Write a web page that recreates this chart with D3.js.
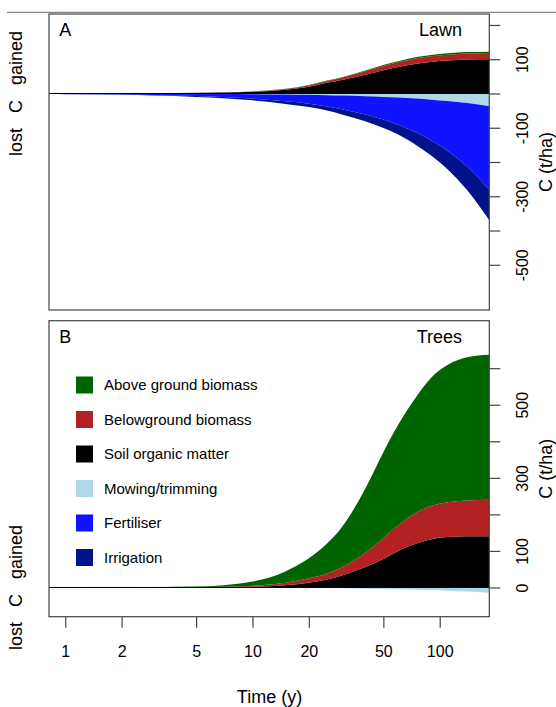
<!DOCTYPE html>
<html>
<head>
<meta charset="utf-8">
<script src="https://cdn.jsdelivr.net/npm/d3@7"></script>
<style>
  body { margin: 0; background: #fff; }
  text { font-family: "Liberation Sans", Arial, sans-serif; fill: #000; }
</style>
</head>
<body>
<script>
// time points (years) the curves are read at
var years = [0.82, 1, 2, 3, 5, 7, 10, 15, 20, 25, 30, 40, 50, 60, 75, 90, 110, 140, 184];

// lawn, C gained (t/ha)
var lawnSoil  = [0, 0, 0.3, 0.7, 1.5, 2.8, 5, 11, 20, 31, 39, 55, 68, 77, 87, 92, 96, 99, 100];
var lawnBelow = [0, 0, 0.05, 0.13, 0.27, 0.5, 0.9, 2, 3.6, 5.6, 7, 9.9, 12.2, 13.9, 15.7, 16.6, 17.3, 17.8, 18];
var lawnAbove = [0, 0, 0.01, 0.03, 0.06, 0.11, 0.2, 0.45, 0.8, 1.2, 1.6, 2.2, 2.7, 3.1, 3.5, 3.7, 3.8, 4, 4];
// lawn, C lost (t/ha)
var lawnMowing = [0.16, 0.2, 0.4, 0.6, 1, 1.4, 2, 3, 4, 5, 6, 8, 10, 12, 15, 18, 22, 28, 37];
var lawnFert   = [1.1, 1.3, 2.6, 4, 6.6, 9.2, 13, 20, 26, 33, 40, 53, 66, 79, 99, 119, 145, 185, 243];
var lawnIrrig  = [0.4, 0.5, 1, 1.5, 2.5, 3.4, 4.9, 7.4, 9.8, 12, 15, 20, 25, 29, 37, 44, 54, 69, 90];

// trees, C gained
var treeSoil  = [0, 0, 0.05, 0.15, 0.4, 0.9, 2, 6, 13, 22, 33, 56, 78, 100, 120, 132, 138, 140, 140];
var treeBelow = [0, 0, 0.05, 0.15, 0.4, 0.9, 2.5, 7, 12, 16, 22, 39, 57, 70, 85, 91, 95, 98, 100];
var treeAbove = [0, 0, 0.3, 0.6, 1.6, 4.5, 11.5, 31, 55, 82, 110, 175, 235, 275, 317, 351, 376, 392, 397];
// trees, C lost
var treeMowing = [0.07, 0.08, 0.16, 0.24, 0.4, 0.56, 0.8, 1.2, 1.6, 2, 2.4, 3.2, 4, 4.8, 6, 7.2, 8.8, 11.2, 14.7];
var treeFert   = [0, 0, 0, 0, 0, 0, 0, 0, 0, 0, 0, 0, 0, 0, 0, 0, 0, 0, 0];
var treeIrrig  = [0, 0, 0, 0, 0, 0, 0, 0, 0, 0, 0, 0, 0, 0, 0, 0, 0, 0, 0];

var legendLabels = ["Above ground biomass", "Belowground biomass", "Soil organic matter",
                    "Mowing/trimming", "Fertiliser", "Irrigation"];
var legendColors = ["#006400", "#b22222", "#000000", "#add8e6", "#0f14ff", "#02128b"];

var xTicks = [1, 2, 5, 10, 20, 50, 100];
var lawnTicks = [200, 100, 0, -100, -200, -300, -400, -500];
var lawnLabels = [100, -100, -300, -500];
var treeTicks = [0, 100, 200, 300, 400, 500, 600];
var treeLabels = [0, 100, 300, 500];

var keys = ["soil", "below", "above", "mowing", "fert", "irrig"];
var keyColor = {soil: "#000000", below: "#b22222", above: "#006400",
                mowing: "#add8e6", fert: "#0f14ff", irrig: "#02128b"};

var W = 556, H = 707;
var left = 49, right = 489.3;

var svg = d3.select("body").append("svg")
  .attr("width", W).attr("height", H);

svg.append("rect").attr("width", W).attr("height", H).attr("fill", "#fff");

// thin grey rule at the very top
svg.append("line")
  .attr("x1", 7).attr("x2", W).attr("y1", 12.3).attr("y2", 12.3)
  .attr("stroke", "#8a8a8a").attr("stroke-width", 1.2);

var x = d3.scaleLog().domain([0.819, 184]).range([left, right]);

function rows(soil, below, above, mow, fert, irr) {
  return years.map(function (t, i) {
    return {t: t, soil: soil[i], below: below[i], above: above[i],
            mowing: -mow[i], fert: -fert[i], irrig: -irr[i]};
  });
}

function panel(id, top, bottom, yDomain, data, ticks, labels, letter, name) {
  var y = d3.scaleLinear().domain(yDomain).range([bottom, top]);
  var g = svg.append("g");

  g.append("clipPath").attr("id", "clip" + id)
    .append("rect").attr("x", left).attr("y", top)
    .attr("width", right - left).attr("height", bottom - top);

  var series = d3.stack().keys(keys).offset(d3.stackOffsetDiverging)(data);

  var area = d3.area()
    .x(function (d) { return x(d.data.t); })
    .y0(function (d) { return y(d[0]); })
    .y1(function (d) { return y(d[1]); })
    .curve(d3.curveMonotoneX);

  g.append("g").attr("clip-path", "url(#clip" + id + ")")
    .selectAll("path").data(series).enter().append("path")
    .attr("d", area)
    .attr("fill", function (s) { return keyColor[s.key]; });

  // zero line
  g.append("line")
    .attr("x1", left).attr("x2", right)
    .attr("y1", y(0)).attr("y2", y(0))
    .attr("stroke", "#000").attr("stroke-width", 1);

  // box
  g.append("rect")
    .attr("x", left).attr("y", top)
    .attr("width", right - left).attr("height", bottom - top)
    .attr("fill", "none").attr("stroke", "#444").attr("stroke-width", 1.2);

  // right axis
  var ax = g.append("g")
    .attr("transform", "translate(" + right + ",0)")
    .call(d3.axisRight(y).tickValues(ticks).tickSize(11)
      .tickFormat(function (d) { return labels.indexOf(d) >= 0 ? d : ""; }));
  ax.select(".domain").remove();
  ax.selectAll("line").attr("stroke", "#444").attr("stroke-width", 1.2);
  ax.selectAll("text")
    .attr("x", null).attr("dy", "0.35em")
    .attr("transform", "translate(33.4,0) rotate(-90)")
    .attr("text-anchor", "middle")
    .style("font-size", "16px")
    .style("font-family", "Liberation Sans, Arial, sans-serif");

  g.append("text")
    .attr("transform", "translate(546," + ((top + bottom) / 2) + ") rotate(-90)")
    .attr("text-anchor", "middle").attr("dy", "0.35em")
    .style("font-size", "18px").text("C (t/ha)");

  // C lost / gained
  g.append("text")
    .attr("transform", "translate(16," + y(0) + ") rotate(-90)")
    .attr("text-anchor", "middle").attr("dy", "0.35em")
    .attr("xml:space", "preserve")
    .style("white-space", "pre")
    .style("font-size", "18px").text("lost   C   gained");

  g.append("text").attr("x", 59.3).attr("y", top + 22)
    .style("font-size", "18px").text(letter);
  g.append("text").attr("x", 462).attr("y", top + 22)
    .attr("text-anchor", "end")
    .style("font-size", "18px").text(name);

  return y;
}

panel("A", 14, 310, [-632, 232],
  rows(lawnSoil, lawnBelow, lawnAbove, lawnMowing, lawnFert, lawnIrrig),
  lawnTicks, lawnLabels, "A", "Lawn");

panel("B", 320.7, 616.7, [-80, 730],
  rows(treeSoil, treeBelow, treeAbove, treeMowing, treeFert, treeIrrig),
  treeTicks, treeLabels, "B", "Trees");

// time axis under panel B
var xa = svg.append("g")
  .attr("transform", "translate(0,616.7)")
  .call(d3.axisBottom(x).tickValues(xTicks).tickSize(11).tickFormat(d3.format("d")));
xa.select(".domain").remove();
xa.selectAll("line").attr("stroke", "#444").attr("stroke-width", 1.2);
xa.selectAll("text")
  .attr("y", 29)
  .style("font-size", "16px")
  .style("font-family", "Liberation Sans, Arial, sans-serif");

svg.append("text")
  .attr("x", 269.5).attr("y", 697).attr("dy", "0.35em")
  .attr("text-anchor", "middle")
  .style("font-size", "18px").text("Time (y)");

// legend
var leg = svg.append("g").selectAll("g")
  .data(legendLabels).enter().append("g")
  .attr("transform", function (d, i) { return "translate(76," + (385 + i * 34.5) + ")"; });
leg.append("rect")
  .attr("x", 0).attr("y", -8.5).attr("width", 17).attr("height", 17)
  .attr("fill", function (d, i) { return legendColors[i]; });
leg.append("text")
  .attr("x", 28).attr("dy", "0.35em")
  .style("font-size", "15px")
  .text(function (d) { return d; });
</script>
</body>
</html>
